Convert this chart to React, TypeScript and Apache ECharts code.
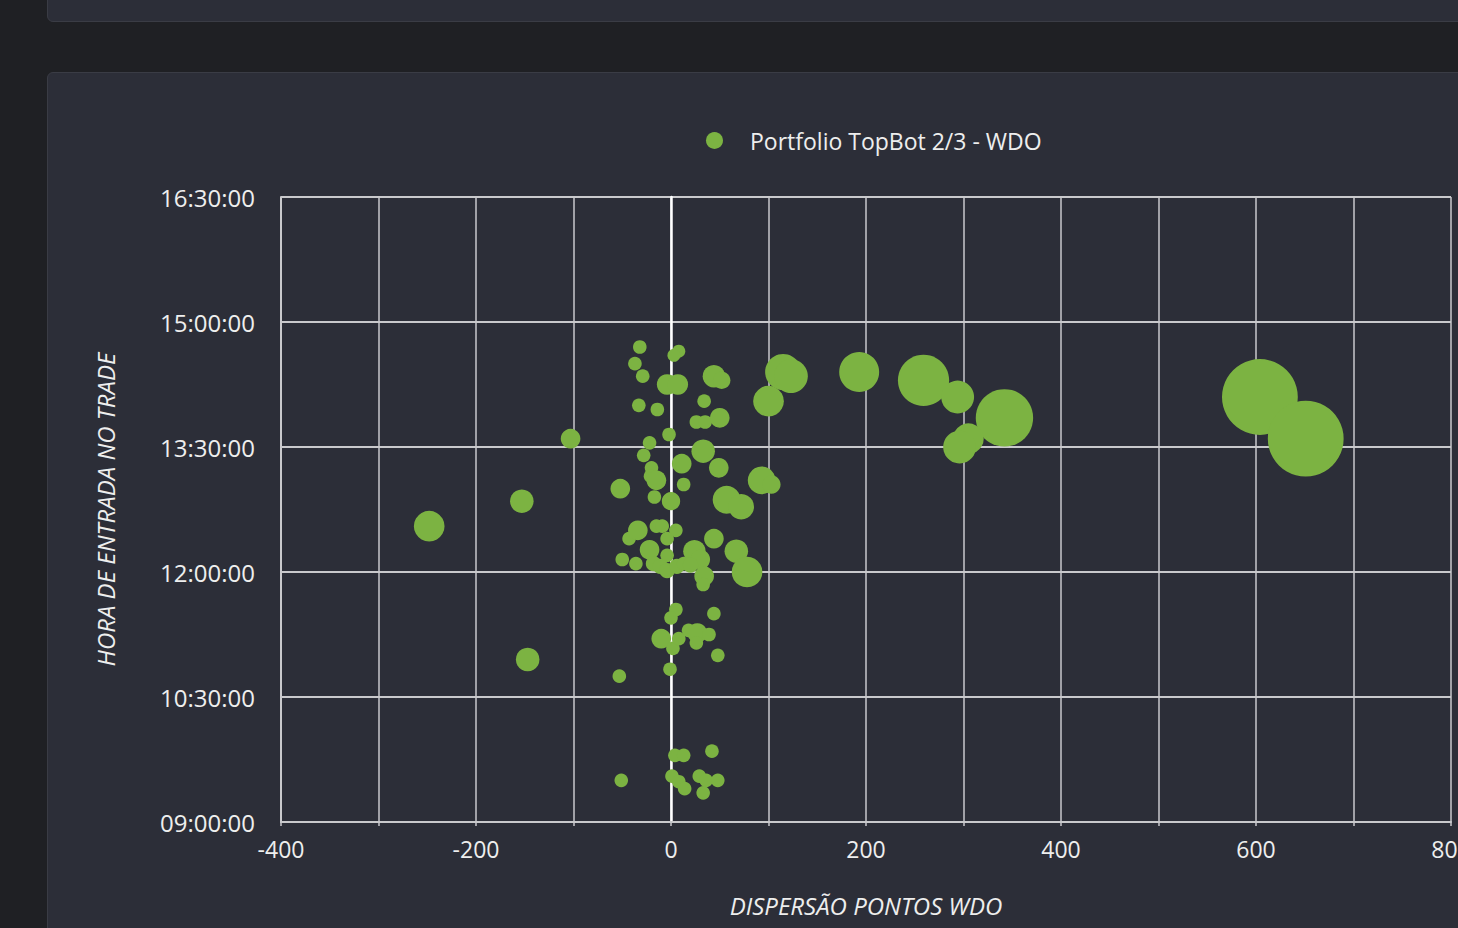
import React, { useEffect, useRef } from "react";
import * as echarts from "echarts";

const seriesName = "Portfolio TopBot 2/3 - WDO";
const xAxisTitle = "DISPERSÃO PONTOS WDO";
const yAxisTitle = "HORA DE ENTRADA NO TRADE";

// Dispersão (pontos WDO)
const dispersao = [
  -32, -37, -29, -33, -14, 8, 3, -4, 7, 34,
  26, 35, 50, 44, 52, -2, -103, 100, 115, 123,
  -22, -28, -20, -21, -15, 11, 33, 49, 13, -17,
  0, -52, 93, 103, 57, 72, 193, 259, 294, 342,
  305, 296, 604, 651, -248, -153, -43, -34, -50, -36,
  -147, -53, -15, -9, 5, -4, 44, -22, -4, 24,
  30, 67, 78, 34, 33, -18, -11, -4, 6, 13,
  20, 5, 0, 44, -10, 2, 8, 18, 27, 39,
  26, 48, -1, -51, 4, 13, 42, 1, 8, 14,
  29, 36, 48, 33,
];

// Hora de entrada no trade
const horaEntrada = [
  "14:42", "14:30", "14:21", "14:00", "13:57", "14:39", "14:36", "14:15", "14:15", "14:03",
  "13:48", "13:48", "13:51", "14:21", "14:18", "13:39", "13:36", "14:03", "14:24", "14:21",
  "13:33", "13:24", "13:15", "13:09", "13:06", "13:18", "13:27", "13:15", "13:03", "12:54",
  "12:51", "13:00", "13:06", "13:03", "12:52", "12:47", "14:24", "14:18", "14:06", "13:51",
  "13:36", "13:30", "14:06", "13:36", "12:33", "12:51", "12:24", "12:30", "12:09", "12:06",
  "10:57", "10:45", "12:33", "12:33", "12:30", "12:24", "12:24", "12:16", "12:12", "12:15",
  "12:09", "12:15", "12:00", "11:57", "11:51", "12:06", "12:04", "12:01", "12:04", "12:06",
  "12:05", "11:33", "11:27", "11:30", "11:12", "11:05", "11:12", "11:18", "11:16", "11:15",
  "11:09", "11:00", "10:50", "09:30", "09:48", "09:48", "09:51", "09:33", "09:29", "09:24",
  "09:33", "09:30", "09:30", "09:21",
];

// Peso relativo de cada trade (tamanho da bolha)
const peso = [
  11, 11, 11, 11, 11, 10, 10, 25, 25, 11,
  11, 11, 23, 30, 18, 11, 23, 56, 77, 68,
  11, 11, 11, 11, 23, 23, 33, 23, 11, 11,
  20, 23, 46, 20, 46, 39, 95, 156, 64, 196,
  56, 64, 342, 342, 56, 33, 11, 23, 11, 11,
  33, 11, 11, 11, 11, 11, 23, 23, 11, 30,
  23, 33, 56, 23, 11, 14, 14, 14, 14, 11,
  14, 11, 11, 11, 23, 11, 11, 11, 23, 11,
  11, 11, 11, 11, 11, 11, 11, 11, 11, 11,
  11, 11, 11, 11,
];

const xMin = -400;
const xMax = 800;
const xStep = 100;
const yMinTime = "09:00";
const yMaxTime = "16:30";
const yStepMinutes = 90;

const toMinutes = (s: string) => {
  const [h, m] = s.split(":").map(Number);
  return h * 60 + m;
};
const fmtTime = (v: number) => {
  const h = Math.floor(v / 60);
  const m = Math.round(v % 60);
  return `${String(h).padStart(2, "0")}:${String(m).padStart(2, "0")}:00`;
};

const FONT = "'Open Sans', 'Noto Sans', sans-serif";
const GRID_COLOR = "#c9c9cc";
const TEXT = "#eeeeee";

function Chart() {
  const ref = useRef<HTMLDivElement>(null);
  useEffect(() => {
    if (!ref.current) return;
    const chart = echarts.init(ref.current, null, { renderer: "svg" });
    const data = dispersao.map((x, i) => [x, toMinutes(horaEntrada[i]), peso[i]]);
    const yMin = toMinutes(yMinTime);
    const yMax = toMinutes(yMaxTime);
    chart.setOption({
      animation: false,
      backgroundColor: "transparent",
      textStyle: { fontFamily: FONT },
      legend: {
        data: [seriesName],
        left: 701,
        top: 124,
        icon: "circle",
        itemWidth: 17,
        itemHeight: 17,
        textStyle: {
          color: TEXT,
          fontSize: 23,
          fontFamily: FONT,
          padding: [0, 0, 0, 22],
        },
      },
      grid: { left: 281, top: 197, width: 1170, height: 625, outerBoundsMode: "none", containLabel: false },
      xAxis: {
        type: "value",
        min: xMin,
        max: xMax,
        interval: xStep,
        name: xAxisTitle,
        nameLocation: "middle",
        nameGap: 71,
        nameTextStyle: {
          color: TEXT,
          fontSize: 24,
          fontStyle: "italic",
          fontFamily: FONT,
        },
        axisLine: { show: true, onZero: false, lineStyle: { color: GRID_COLOR, width: 2 } },
        axisTick: { show: true, length: 4, lineStyle: { color: GRID_COLOR, width: 1.5 } },
        axisLabel: {
          color: TEXT,
          fontSize: 23,
          margin: 15,
          fontFamily: FONT,
          formatter: (v: number) => (v % 200 === 0 ? String(v) : ""),
        },
        splitLine: { show: true, lineStyle: { color: GRID_COLOR, width: 1.5 } },
      },
      yAxis: [
        {
          type: "value",
          min: yMin,
          max: yMax,
          interval: yStepMinutes,
          name: yAxisTitle,
          nameLocation: "middle",
          nameGap: 164,
          nameTextStyle: {
            color: TEXT,
            fontSize: 24,
            fontStyle: "italic",
            fontFamily: FONT,
          },
          axisLine: { show: true, onZero: false, lineStyle: { color: GRID_COLOR, width: 2 } },
          axisTick: { show: false },
          axisLabel: {
            color: TEXT,
            fontSize: 24,
            margin: 26,
            fontFamily: FONT,
            formatter: (v: number) => fmtTime(v),
          },
          splitLine: { show: true, lineStyle: { color: GRID_COLOR, width: 2 } },
        },
        {
          type: "value",
          min: yMin,
          max: yMax,
          interval: yStepMinutes,
          position: "left",
          axisLine: { show: true, onZero: true, lineStyle: { color: "#ffffff", width: 2.5 } },
          axisTick: { show: false },
          axisLabel: { show: false },
          splitLine: { show: false },
        },
      ],
      series: [
        {
          name: seriesName,
          type: "scatter",
          yAxisIndex: 0,
          data,
          symbolSize: (d: number[]) => Math.sqrt(d[2]) * 4.1,
          itemStyle: { color: "#7cb342", opacity: 1 },
          emphasis: { disabled: true },
        },
      ],
    });
    return () => chart.dispose();
  }, []);
  return (
    <div
      ref={ref}
      style={{ position: "absolute", left: 0, top: 0, width: 1458, height: 928 }}
    />
  );
}

export default function App() {
  return (
    <div
      style={{
        position: "fixed",
        left: 0,
        top: 0,
        width: 1458,
        height: 928,
        background: "#1f2024",
        overflow: "hidden",
      }}
    >
      <div
        style={{
          position: "absolute",
          left: 47,
          top: -20,
          width: 1500,
          height: 42,
          background: "#2c2e38",
          border: "1px solid #3a3c45",
          borderRadius: 6,
          boxSizing: "border-box",
        }}
      />
      <div
        style={{
          position: "absolute",
          left: 47,
          top: 72,
          width: 1500,
          height: 1000,
          background: "#2c2e38",
          border: "1px solid #3a3c45",
          borderRadius: 6,
          boxSizing: "border-box",
        }}
      />
      <Chart />
    </div>
  );
}
